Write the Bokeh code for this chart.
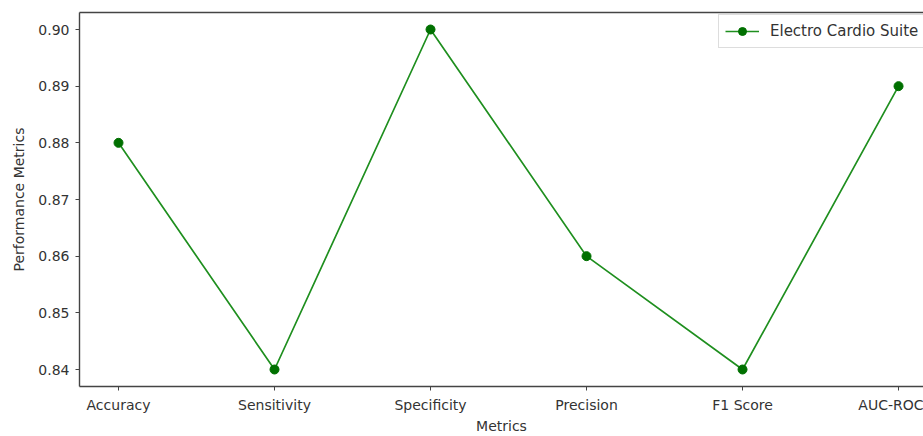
from bokeh.plotting import figure
from bokeh.models import Range1d, FixedTicker, LinearAxis, Legend, LegendItem
from bokeh.embed import file_html
from bokeh.resources import INLINE

metrics = ["Accuracy", "Sensitivity", "Specificity", "Precision", "F1 Score", "AUC-ROC"]
values = [0.88, 0.84, 0.90, 0.86, 0.84, 0.89]
y_ticks = [0.84, 0.85, 0.86, 0.87, 0.88, 0.89, 0.90]
series_name = "Electro Cardio Suite"

xs = list(range(len(metrics)))
FONT = "DejaVu Sans"
TXT = "#333333"
SPINE = "#444444"

p = figure(width=923, height=436, output_backend="svg", toolbar_location=None,
           x_range=Range1d(-0.25, 5.16), y_range=Range1d(0.837, 0.903),
           min_border_left=79, min_border_right=0, min_border_top=12, min_border_bottom=48)
p.outline_line_color = None
p.grid.visible = False
p.background_fill_color = "white"
p.border_fill_color = "white"

line = p.line(xs, values, line_color="#1f8f1f", line_width=1.7)
pts = p.scatter(xs, values, size=9, fill_color="#007000", line_color="#007000")

p.xaxis.ticker = FixedTicker(ticks=xs)
p.xaxis.major_label_overrides = {i: m for i, m in enumerate(metrics)}
p.yaxis.ticker = FixedTicker(ticks=y_ticks)
p.yaxis.major_label_overrides = {t: f"{t:.2f}" for t in y_ticks}

for ax in (p.xaxis[0], p.yaxis[0]):
    ax.axis_line_color = SPINE
    ax.axis_line_width = 1.4
    ax.major_tick_line_color = SPINE
    ax.major_tick_out = 4
    ax.major_tick_in = 0
    ax.minor_tick_line_color = None
    ax.major_label_text_font = FONT
    ax.major_label_text_font_size = "14px"
    ax.major_label_text_color = TXT
    ax.axis_label_text_font = FONT
    ax.axis_label_text_font_size = "14px"
    ax.axis_label_text_font_style = "normal"
    ax.axis_label_text_color = TXT

p.xaxis.axis_label = "Metrics"
p.yaxis.axis_label = "Performance Metrics"
p.xaxis.major_label_standoff = 6
p.xaxis.axis_label_standoff = 2
p.yaxis.major_label_standoff = 6
p.yaxis.axis_label_standoff = 8

top = LinearAxis(ticker=FixedTicker(ticks=[]), axis_line_color=SPINE, axis_line_width=1.4,
                 major_tick_line_color=None, minor_tick_line_color=None,
                 major_label_text_font_size="0px")
p.add_layout(top, "above")

legend = Legend(items=[LegendItem(label=series_name, renderers=[line, pts])],
                location=(639, 338), glyph_width=34, glyph_height=20, label_standoff=11,
                label_text_font=FONT, label_text_font_size="15px", label_text_color=TXT,
                border_line_color="#dddddd", border_line_alpha=1.0,
                background_fill_alpha=0.9, padding=6, margin=0, spacing=0)
p.add_layout(legend, "center")

open("out.html", "w").write(file_html(p, INLINE))
